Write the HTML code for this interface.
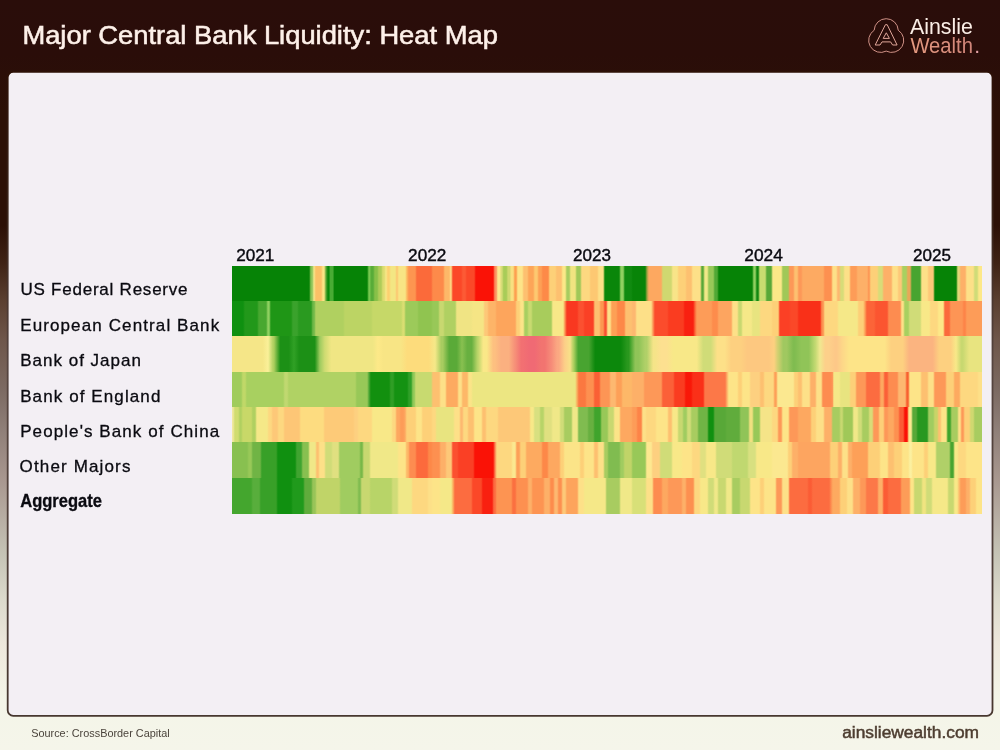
<!DOCTYPE html>
<html lang="en"><head><meta charset="utf-8"><title>Major Central Bank Liquidity: Heat Map</title>
<style>
html,body{margin:0;padding:0}
body{width:1000px;height:750px;overflow:hidden;position:relative;font-family:"Liberation Sans",sans-serif;
background:linear-gradient(180deg,#2a0d0a 0px,#2a0d09 55px,#2c1006 110px,#2c1006 225px,#3e2214 262px,#5a3f30 300px,#6e564a 340px,#7c6a62 390px,#8f7f78 430px,#a8978f 480px,#b8afa4 520px,#c6c4b6 555px,#dcdacc 600px,#eee8dc 645px,#f4f5e8 700px,#f5f5ea 750px)}
.r{position:absolute;left:232px;width:750px}
svg{position:absolute;left:0;top:0}
text{font-family:"Liberation Sans",sans-serif}
</style></head><body>
<svg width="1000" height="750" viewBox="0 0 1000 750"><defs><linearGradient id="bg" x1="0" y1="0" x2="0" y2="1"><stop offset="0" stop-color="#2c1006"/><stop offset="0.22" stop-color="#3a241a"/><stop offset="0.45" stop-color="#55443f"/><stop offset="1" stop-color="#47372f"/></linearGradient></defs><rect x="7.7" y="71.9" width="984.8" height="643.9" rx="5.5" fill="#f3eff4" stroke="url(#bg)" stroke-width="1.8"/></svg>
<div class="r" style="top:266px;height:35px;background:linear-gradient(90deg,#068306 0.9px,#068306 77.1px,#8cc458 78.9px,#8cc458 80.1px,#f5e88a 82.0px,#fcc066 83.9px,#fcc066 89.1px,#fbe585 90.9px,#fbe585 92.1px,#60a838 94.0px,#0a880a 95.9px,#0a880a 96.7px,#48ac34 98.5px,#48ac34 100.7px,#068306 102.5px,#068306 135.1px,#78c850 136.9px,#78c850 137.5px,#58ac38 139.3px,#58ac38 141.1px,#88c048 142.9px,#88c048 145.1px,#b0cc58 146.9px,#b0cc58 149.1px,#dcdc70 150.9px,#dcdc70 152.1px,#f8e888 154.0px,#fdd070 155.9px,#fdd070 157.1px,#f3e683 158.9px,#f3e683 163.1px,#fdc470 165.0px,#f8e585 166.9px,#f8e585 173.1px,#fdb860 175.0px,#fd9550 176.9px,#fd9550 183.1px,#fb6a3a 184.9px,#fb6a3a 199.1px,#fd8a4a 200.9px,#fd8a4a 211.1px,#fdb868 212.9px,#fdb868 217.1px,#fde088 219.0px,#fb4828 220.9px,#fb4828 229.1px,#fc5a35 230.9px,#fc5a35 233.1px,#fb4828 234.9px,#fb4828 242.1px,#fa1206 243.9px,#fa1206 261.1px,#fc9060 262.9px,#fc9060 264.1px,#fbe890 265.9px,#fbe890 267.5px,#d8dc78 269.3px,#d8dc78 269.9px,#a8cc58 271.7px,#a8cc58 274.3px,#d0d870 276.1px,#d0d870 277.5px,#f8e080 279.3px,#f8e080 281.1px,#fda050 282.9px,#fda050 284.1px,#fde488 285.9px,#fde488 290.1px,#fdc070 291.9px,#fdc070 295.1px,#fda558 296.9px,#fda558 301.1px,#fdc870 302.9px,#fdc870 305.1px,#fda055 306.9px,#fda055 309.1px,#fd8a48 310.9px,#fd8a48 316.1px,#fdd078 317.9px,#fdd078 323.1px,#fdc070 324.9px,#fdc070 329.1px,#fbe888 330.9px,#fbe888 333.1px,#a8cc60 334.9px,#a8cc60 337.1px,#f0e480 338.9px,#f0e480 343.1px,#a0c858 344.9px,#a0c858 348.1px,#fdd880 349.9px,#fdd880 357.1px,#fdc872 358.9px,#fdc872 365.1px,#fde088 366.9px,#fde088 371.1px,#0a860a 372.9px,#0a860a 387.1px,#90d060 388.9px,#90d060 391.1px,#108a10 392.9px,#108a10 399.1px,#088408 400.9px,#088408 413.1px,#a0a040 415.0px,#fda860 416.9px,#fda860 429.1px,#d0d870 430.9px,#d0d870 439.1px,#f8e488 440.9px,#f8e488 445.1px,#fdd078 446.9px,#fdd078 453.1px,#fdc070 454.9px,#fdc070 459.1px,#fde088 460.9px,#fde088 468.1px,#58a838 469.9px,#58a838 471.1px,#f0e888 472.9px,#f0e888 475.1px,#98c858 476.9px,#98c858 481.1px,#50a835 482.9px,#50a835 485.1px,#068306 486.9px,#068306 520.1px,#90d060 521.9px,#90d060 523.1px,#108810 524.9px,#108810 526.1px,#c8dc70 527.9px,#c8dc70 533.1px,#58a838 534.9px,#58a838 539.1px,#fbe888 540.9px,#fbe888 549.1px,#a0c858 550.9px,#a0c858 556.1px,#fd9858 557.9px,#fd9858 561.1px,#fdc070 562.9px,#fdc070 565.1px,#fd9858 566.9px,#fd9858 569.1px,#fdaa62 570.9px,#fdaa62 591.1px,#fd9050 592.9px,#fd9050 599.1px,#fde088 600.9px,#fde088 604.1px,#fdb870 605.9px,#fdb870 607.1px,#d8dc78 608.9px,#d8dc78 611.1px,#fde088 612.9px,#fde088 617.1px,#fd9c58 618.9px,#fd9c58 624.1px,#fdb068 625.9px,#fdb068 635.1px,#fd9050 637.0px,#fdd078 638.9px,#fdd078 645.1px,#d8dc78 646.9px,#d8dc78 650.1px,#fdb068 651.9px,#fdb068 659.1px,#fde088 660.9px,#fde088 665.1px,#fdc878 666.9px,#fdc878 669.1px,#a8d060 670.9px,#a8d060 674.1px,#e8a858 675.9px,#e8a858 678.1px,#48a430 679.9px,#48a430 688.1px,#fde088 689.9px,#fde088 695.1px,#fdc878 696.9px,#fdc878 701.1px,#068306 702.9px,#068306 724.1px,#e0d878 725.9px,#e0d878 727.1px,#fdb068 728.9px,#fdb068 733.1px,#fde088 734.9px,#fde088 741.1px,#d0dc78 742.9px,#d0dc78 745.1px,#fde888 746.9px,#fde888 749.5px)"></div>
<div class="r" style="top:301px;height:35px;background:linear-gradient(90deg,#0f9010 0.9px,#0f9010 11.1px,#22981a 12.9px,#22981a 25.1px,#48a830 26.9px,#48a830 34.1px,#8fd060 35.9px,#8fd060 37.1px,#1f9616 38.9px,#1f9616 59.1px,#3aa22c 60.9px,#3aa22c 65.1px,#2a9a20 66.9px,#2a9a20 79.1px,#70b848 80.9px,#70b848 82.1px,#b0d060 83.9px,#b0d060 111.1px,#bcd464 112.9px,#bcd464 139.1px,#c6d868 140.9px,#c6d868 169.1px,#dade72 170.9px,#dade72 172.1px,#9cca5a 173.9px,#9cca5a 185.1px,#90c450 186.9px,#90c450 199.1px,#98c858 200.9px,#98c858 206.1px,#c8d870 207.9px,#c8d870 211.1px,#b0d062 212.9px,#b0d062 223.1px,#f0e484 224.9px,#f0e484 239.1px,#f5e585 240.9px,#f5e585 251.1px,#fdc878 252.9px,#fdc878 255.1px,#fdb468 256.9px,#fdb468 263.1px,#fda55c 264.9px,#fda55c 283.1px,#fdd078 284.9px,#fdd078 287.1px,#fce488 288.9px,#fce488 291.1px,#a8cf60 292.9px,#a8cf60 295.1px,#c8da70 296.9px,#c8da70 299.1px,#a8cc5c 300.9px,#a8cc5c 319.1px,#f8e888 320.9px,#f8e888 331.1px,#fc9050 333.0px,#f93820 334.9px,#f93820 345.1px,#fb5030 346.9px,#fb5030 351.1px,#fa4025 352.9px,#fa4025 361.1px,#fdc070 362.9px,#fdc070 367.1px,#fd9850 368.9px,#fd9850 371.1px,#f85030 372.9px,#f85030 374.1px,#fde088 375.9px,#fde088 378.1px,#fda055 379.9px,#fda055 384.1px,#fd8848 385.9px,#fd8848 392.1px,#fdc070 393.9px,#fdc070 399.1px,#fdb870 400.9px,#fdb870 403.1px,#fde088 404.9px,#fde088 419.1px,#fc9858 421.0px,#fb4c2c 422.9px,#fb4c2c 435.1px,#fa3c20 436.9px,#fa3c20 451.1px,#f92010 452.9px,#f92010 461.1px,#fc6838 463.0px,#fd9c58 464.9px,#fd9c58 479.1px,#fd8c4c 480.9px,#fd8c4c 485.1px,#fda560 486.9px,#fda560 499.1px,#fde088 500.9px,#fde088 505.1px,#c8d870 506.9px,#c8d870 509.1px,#f5e888 510.9px,#f5e888 519.1px,#e8e480 520.9px,#e8e480 527.1px,#fdd880 528.9px,#fdd880 539.1px,#fdd078 540.9px,#fdd078 546.1px,#fb4025 547.9px,#fb4025 557.1px,#fa4828 558.9px,#fa4828 565.1px,#f93018 566.9px,#f93018 588.1px,#fc9050 589.9px,#fc9050 591.1px,#fdd880 592.9px,#fdd880 599.1px,#fdd880 600.9px,#fdd880 605.1px,#f5e888 606.9px,#f5e888 625.1px,#fdd078 626.9px,#fdd078 631.1px,#fda058 633.0px,#fc6438 634.9px,#fc6438 642.1px,#fb5530 643.9px,#fb5530 655.1px,#fd8c50 656.9px,#fd8c50 668.1px,#fde088 669.9px,#fde088 671.1px,#a8d060 672.9px,#a8d060 676.1px,#d0dc78 677.9px,#d0dc78 688.1px,#f8e888 689.9px,#f8e888 697.1px,#fdd880 698.9px,#fdd880 705.1px,#fde888 706.9px,#fde888 711.1px,#fb6a3c 712.9px,#fb6a3c 717.1px,#fd9555 718.9px,#fd9555 730.1px,#fd8448 731.9px,#fd8448 733.1px,#fd9c58 734.9px,#fd9c58 749.5px)"></div>
<div class="r" style="top:336px;height:36px;background:linear-gradient(90deg,#f5e688 3.2px,#f5e688 30.8px,#faf098 35.9px,#faf098 36.1px,#b0d060 41.2px,#b0d060 41.8px,#1c9016 48.2px,#1c9016 56.8px,#30a025 61.9px,#30a025 62.1px,#1c9016 67.2px,#1c9016 82.8px,#a0cc60 87.9px,#a0cc60 88.1px,#d0dc72 92.9px,#d0dc72 93.1px,#f0e684 99.2px,#f0e684 140.8px,#fde988 145.9px,#fde988 146.1px,#f8e585 151.2px,#f8e585 168.8px,#fddc7c 175.2px,#fddc7c 196.8px,#f5e888 202.9px,#f5e888 203.1px,#a8cc60 209.2px,#a8cc60 210.8px,#5aaa38 217.2px,#5aaa38 224.8px,#88c050 229.9px,#88c050 230.1px,#68b040 235.2px,#68b040 239.8px,#b8d468 245.4px,#b8d468 245.6px,#fae888 251.2px,#fae888 254.8px,#fdc080 261.2px,#fdc080 262.8px,#fbb080 269.2px,#fbb080 276.8px,#f69078 282.9px,#f69078 283.1px,#f27072 289.2px,#f27072 290.8px,#f06a74 297.2px,#f06a74 302.8px,#f27470 309.2px,#f27470 312.8px,#f68a78 318.9px,#f68a78 319.1px,#fba882 325.2px,#fba882 326.8px,#fcd088 332.9px,#fcd088 333.1px,#f8e088 337.9px,#f8e088 338.1px,#b0d060 341.4px,#b0d060 341.6px,#48a430 346.2px,#48a430 356.8px,#0c880c 363.2px,#0c880c 388.8px,#2a981e 395.2px,#2a981e 396.8px,#90c458 403.2px,#90c458 406.8px,#b0d068 413.2px,#b0d068 414.8px,#f5e488 421.2px,#f5e488 422.8px,#fde090 429.2px,#fde090 434.8px,#f8e888 441.2px,#f8e888 464.8px,#d0dc78 471.2px,#d0dc78 478.8px,#fde088 485.2px,#fde088 492.8px,#fdd080 499.2px,#fdd080 508.8px,#fdc880 515.2px,#fdc880 536.8px,#fdd080 541.9px,#fdd080 542.1px,#d0d070 545.9px,#d0d070 546.1px,#a0c860 551.2px,#a0c860 554.8px,#80bc50 561.2px,#80bc50 562.8px,#90c458 569.2px,#90c458 576.8px,#c0d870 582.9px,#c0d870 583.1px,#f0e890 587.9px,#f0e890 588.1px,#fdd08a 593.2px,#fdd08a 596.8px,#fdc888 603.2px,#fdc888 604.8px,#fdd888 610.9px,#fdd888 611.1px,#fde488 617.2px,#fde488 652.8px,#fdd080 659.2px,#fdd080 670.8px,#fbb480 677.2px,#fbb480 700.8px,#fdd080 707.2px,#fdd080 718.8px,#f8e888 723.9px,#f8e888 724.1px,#c8d870 729.2px,#c8d870 730.8px,#e8e480 737.2px,#e8e480 747.2px)"></div>
<div class="r" style="top:372px;height:35px;background:linear-gradient(90deg,#a0cc5c 0.9px,#a0cc5c 9.1px,#c0d868 10.9px,#c0d868 13.1px,#a8d060 14.9px,#a8d060 51.1px,#c0d870 52.9px,#c0d870 55.1px,#b0d264 56.9px,#b0d264 123.1px,#98c858 124.9px,#98c858 135.1px,#50a838 137.0px,#12900f 138.9px,#12900f 157.1px,#2f9e25 158.9px,#2f9e25 161.1px,#149212 162.9px,#149212 175.1px,#30a028 176.9px,#30a028 179.1px,#90c858 180.9px,#90c858 182.1px,#c8da70 183.9px,#c8da70 199.1px,#fdc070 200.9px,#fdc070 207.1px,#fde088 208.9px,#fde088 213.1px,#fdaa60 214.9px,#fdaa60 225.1px,#fde088 226.9px,#fde088 229.1px,#fdb868 230.9px,#fdb868 235.1px,#fbe488 236.9px,#fbe488 239.1px,#ece682 240.9px,#ece682 343.1px,#f8b060 345.0px,#fb7840 346.9px,#fb7840 353.1px,#fd9050 354.9px,#fd9050 361.1px,#fa6035 362.9px,#fa6035 367.1px,#fd9555 368.9px,#fd9555 377.1px,#fdb870 378.9px,#fdb870 383.1px,#fda058 384.9px,#fda058 389.1px,#fdb868 390.9px,#fdb868 399.1px,#fdb068 400.9px,#fdb068 411.1px,#fd9858 412.9px,#fd9858 429.1px,#fb6038 430.9px,#fb6038 441.1px,#fa3c20 442.9px,#fa3c20 452.1px,#f91808 453.9px,#f91808 459.1px,#fa3018 460.9px,#fa3018 471.1px,#fc7848 472.9px,#fc7848 493.1px,#fdb068 495.0px,#fde488 496.9px,#fde488 505.1px,#fdd078 506.9px,#fdd078 509.1px,#fde488 510.9px,#fde488 517.1px,#fdd080 518.9px,#fdd080 527.1px,#fdc070 528.9px,#fdc070 531.1px,#fdd880 532.9px,#fdd880 541.1px,#fda058 542.9px,#fda058 544.1px,#fbe890 545.9px,#fbe890 561.1px,#fdd078 562.9px,#fdd078 565.1px,#fdc070 566.9px,#fdc070 569.1px,#fde088 570.9px,#fde088 577.1px,#fdb068 578.9px,#fdb068 583.1px,#fde088 584.9px,#fde088 589.1px,#fd8c50 590.9px,#fd8c50 599.1px,#fd9858 600.5px,#f5e888 601.9px,#f5e888 607.1px,#e8e480 608.9px,#e8e480 617.1px,#fdd078 618.9px,#fdd078 623.1px,#fd9858 624.9px,#fd9858 633.1px,#fc6c40 634.9px,#fc6c40 647.1px,#fda860 648.9px,#fda860 651.1px,#fb6038 652.9px,#fb6038 655.1px,#fd8c50 656.9px,#fd8c50 665.1px,#fdb870 666.9px,#fdb870 673.1px,#f86030 674.9px,#f86030 676.1px,#fde488 677.9px,#fde488 688.1px,#fdc070 689.9px,#fdc070 695.1px,#fde088 696.9px,#fde088 701.1px,#fd9858 702.9px,#fd9858 713.1px,#fdd078 714.9px,#fdd078 721.1px,#fdaa60 722.9px,#fdaa60 727.1px,#fdd880 728.9px,#fdd880 745.1px,#fde088 746.9px,#fde088 749.5px)"></div>
<div class="r" style="top:407px;height:35px;background:linear-gradient(90deg,#f0e8a0 1.0px,#d0dc70 2.9px,#d0dc70 6.1px,#b0d060 7.9px,#b0d060 9.1px,#c8d868 10.9px,#c8d868 19.1px,#b0d060 20.9px,#b0d060 23.1px,#f5e888 24.9px,#f5e888 35.1px,#fdd880 36.9px,#fdd880 39.1px,#fdc878 40.9px,#fdc878 45.1px,#fdd880 46.9px,#fdd880 51.1px,#fdc676 52.9px,#fdc676 67.1px,#fddc80 68.9px,#fddc80 91.1px,#fdca78 92.9px,#fdca78 121.1px,#fdd080 122.9px,#fdd080 125.1px,#fdd880 126.9px,#fdd880 139.1px,#f8e888 140.9px,#f8e888 159.1px,#fdd880 160.9px,#fdd880 163.1px,#fda860 164.9px,#fda860 167.1px,#fd9c58 168.9px,#fd9c58 171.1px,#fda860 173.0px,#fdd078 174.9px,#fdd078 183.1px,#fde488 184.9px,#fde488 189.1px,#fdd078 190.9px,#fdd078 199.1px,#fdd880 200.9px,#fdd880 203.1px,#e8e480 204.9px,#e8e480 221.1px,#fde088 222.9px,#fde088 227.1px,#fdb870 228.9px,#fdb870 230.1px,#fdd880 231.9px,#fdd880 235.1px,#fdc070 236.9px,#fdc070 241.1px,#fde488 242.9px,#fde488 249.1px,#fdc070 250.9px,#fdc070 253.1px,#fdd880 254.9px,#fdd880 265.1px,#fdc878 266.9px,#fdc878 297.1px,#f8e888 298.9px,#f8e888 301.1px,#d8e080 302.9px,#d8e080 307.1px,#b8d468 308.9px,#b8d468 311.1px,#e0e080 312.9px,#e0e080 319.1px,#f0e888 320.9px,#f0e888 327.1px,#d0dc78 328.9px,#d0dc78 331.1px,#a8cc60 332.9px,#a8cc60 339.1px,#f0e888 340.9px,#f0e888 345.1px,#80bc50 346.9px,#80bc50 355.1px,#68b040 356.9px,#68b040 361.1px,#40a42c 362.9px,#40a42c 368.1px,#98c858 369.9px,#98c858 375.1px,#c8d870 376.9px,#c8d870 381.1px,#fbe488 382.9px,#fbe488 387.1px,#fda860 388.9px,#fda860 399.1px,#fd9c58 400.9px,#fd9c58 404.1px,#fd8448 405.9px,#fd8448 409.1px,#fde088 410.9px,#fde088 413.1px,#fdd880 414.9px,#fdd880 423.1px,#fde488 424.9px,#fde488 435.1px,#fdc070 436.9px,#fdc070 439.1px,#f8e888 440.9px,#f8e888 445.1px,#c8d870 446.9px,#c8d870 450.1px,#a0cc60 451.9px,#a0cc60 454.1px,#d0dc78 455.9px,#d0dc78 458.1px,#a8cc60 459.9px,#a8cc60 465.1px,#70b445 466.9px,#70b445 475.1px,#109010 476.9px,#109010 481.1px,#58a838 482.9px,#58a838 493.1px,#60ac3c 494.9px,#60ac3c 507.1px,#90c458 508.9px,#90c458 516.1px,#f0e080 517.9px,#f0e080 520.1px,#98c858 521.9px,#98c858 527.1px,#f5e488 528.9px,#f5e488 539.1px,#fdd880 540.9px,#fdd880 545.1px,#fd9858 546.9px,#fd9858 549.1px,#fde488 550.9px,#fde488 556.1px,#fd9858 557.9px,#fd9858 565.1px,#fda860 566.9px,#fda860 578.1px,#fdd078 579.9px,#fdd078 583.1px,#fde088 584.9px,#fde088 591.1px,#fdb068 592.9px,#fdb068 599.1px,#a8cc60 600.9px,#a8cc60 607.1px,#c8d870 608.9px,#c8d870 610.1px,#a0c858 611.9px,#a0c858 620.1px,#f0e888 621.9px,#f0e888 625.1px,#d0dc78 626.9px,#d0dc78 629.1px,#a8cc60 630.9px,#a8cc60 636.1px,#d8dc78 637.9px,#d8dc78 640.1px,#fd9858 641.9px,#fd9858 646.1px,#fdd078 647.9px,#fdd078 651.1px,#fd9858 652.9px,#fd9858 655.1px,#fda860 656.9px,#fda860 661.1px,#fd9050 662.9px,#fd9050 666.1px,#fb5c35 667.9px,#fb5c35 671.1px,#fa1206 672.9px,#fa1206 675.1px,#fbe890 676.9px,#fbe890 679.1px,#58a838 680.9px,#58a838 684.1px,#289820 685.9px,#289820 695.1px,#a0cc60 696.9px,#a0cc60 701.1px,#c8d468 702.9px,#c8d468 705.1px,#fdc070 706.9px,#fdc070 708.1px,#fde488 709.9px,#fde488 714.1px,#40a42c 715.9px,#40a42c 718.1px,#a8cc60 719.9px,#a8cc60 725.1px,#fde088 726.9px,#fde088 728.1px,#fd9858 729.9px,#fd9858 731.1px,#fdd078 732.9px,#fdd078 737.1px,#d0d870 738.9px,#d0d870 741.1px,#a8cc60 742.9px,#a8cc60 749.5px)"></div>
<div class="r" style="top:442px;height:36px;background:linear-gradient(90deg,#88c050 0.9px,#88c050 15.1px,#98c858 16.9px,#98c858 19.1px,#70b445 20.9px,#70b445 28.1px,#38a028 29.9px,#38a028 44.1px,#109010 45.9px,#109010 63.1px,#40a430 64.9px,#40a430 69.1px,#88c050 70.9px,#88c050 76.1px,#f0e888 77.9px,#f0e888 83.1px,#fdc070 84.9px,#fdc070 86.1px,#fde088 87.9px,#fde088 92.1px,#d0dc78 93.9px,#d0dc78 99.1px,#e0e080 100.9px,#e0e080 106.1px,#a0cc60 107.9px,#a0cc60 127.1px,#78b848 128.9px,#78b848 130.1px,#c8d870 131.9px,#c8d870 137.1px,#f0e888 138.9px,#f0e888 165.1px,#fde488 166.9px,#fde488 173.1px,#fdb868 174.9px,#fdb868 176.1px,#fd8c50 177.9px,#fd8c50 183.1px,#fc6a3c 184.9px,#fc6a3c 195.1px,#fd8848 196.9px,#fd8848 199.1px,#fd9050 200.9px,#fd9050 207.1px,#fdb068 208.9px,#fdb068 213.1px,#fdc878 214.9px,#fdc878 219.1px,#fb5030 220.9px,#fb5030 225.1px,#fa4025 226.9px,#fa4025 241.1px,#fa1206 242.9px,#fa1206 261.1px,#fc8050 263.0px,#fdd880 264.9px,#fdd880 279.1px,#fbe890 280.9px,#fbe890 283.1px,#fda058 284.9px,#fda058 287.1px,#fdd078 288.9px,#fdd078 293.1px,#fdaa60 294.9px,#fdaa60 309.1px,#fd8848 310.9px,#fd8848 315.1px,#fda860 316.9px,#fda860 327.1px,#fdd078 328.9px,#fdd078 331.1px,#fbe488 332.9px,#fbe488 347.1px,#fdd078 348.9px,#fdd078 351.1px,#fde488 352.9px,#fde488 361.1px,#fdc070 362.9px,#fdc070 365.1px,#fde088 366.9px,#fde088 371.1px,#a8cc60 372.9px,#a8cc60 375.1px,#80bc50 376.9px,#80bc50 387.1px,#a0cc60 388.9px,#a0cc60 391.1px,#c0d468 392.9px,#c0d468 399.1px,#98c858 400.9px,#98c858 413.1px,#fde890 414.9px,#fde890 419.1px,#fdd080 420.9px,#fdd080 427.1px,#d0dc78 428.9px,#d0dc78 439.1px,#f8e888 440.9px,#f8e888 449.1px,#fde488 450.9px,#fde488 459.1px,#fdd880 460.9px,#fdd880 467.1px,#e0e080 468.9px,#e0e080 473.1px,#f8e888 474.9px,#f8e888 483.1px,#d0dc78 484.9px,#d0dc78 499.1px,#c0d870 500.9px,#c0d870 515.1px,#d8e080 516.9px,#d8e080 523.1px,#f8e888 524.9px,#f8e888 539.1px,#fbe890 540.9px,#fbe890 555.1px,#fdd078 556.9px,#fdd078 559.1px,#fdb068 560.9px,#fdb068 565.1px,#fda560 566.9px,#fda560 597.1px,#fdd078 599.0px,#fdd078 600.9px,#fdd078 605.1px,#fdb068 606.9px,#fdb068 609.1px,#fde088 610.9px,#fde088 615.1px,#fdb068 616.9px,#fdb068 619.1px,#fda058 620.9px,#fda058 635.1px,#fdd078 636.9px,#fdd078 647.1px,#fde488 648.9px,#fde488 655.1px,#fdc070 656.9px,#fdc070 661.1px,#fdd078 662.9px,#fdd078 669.1px,#fde488 670.9px,#fde488 676.1px,#fbf0a0 677.9px,#fbf0a0 679.1px,#fde488 680.9px,#fde488 691.1px,#fdd078 692.9px,#fdd078 695.1px,#f8e888 696.9px,#f8e888 703.1px,#b0d068 704.9px,#b0d068 717.1px,#48a430 718.9px,#48a430 721.1px,#f8e888 722.9px,#f8e888 725.1px,#fdd880 726.9px,#fdd880 733.1px,#fde488 734.9px,#fde488 749.5px)"></div>
<div class="r" style="top:478px;height:36px;background:linear-gradient(90deg,#44a62e 0.9px,#44a62e 19.1px,#58ae3c 20.9px,#58ae3c 27.1px,#38a028 28.9px,#38a028 44.1px,#109010 45.9px,#109010 59.1px,#209a1c 60.9px,#209a1c 71.1px,#60ac3c 72.9px,#60ac3c 79.1px,#98c458 80.9px,#98c458 83.1px,#c0d468 84.9px,#c0d468 107.1px,#a0cc60 108.9px,#a0cc60 125.1px,#80bc50 126.9px,#80bc50 128.1px,#c8d870 129.9px,#c8d870 137.1px,#b8d468 138.9px,#b8d468 159.1px,#d0dc78 160.9px,#d0dc78 165.1px,#f0e888 166.9px,#f0e888 179.1px,#fdd880 180.9px,#fdd880 195.1px,#fde088 196.9px,#fde088 199.1px,#fde488 200.9px,#fde488 207.1px,#f5e888 208.9px,#f5e888 219.1px,#fcb060 221.0px,#fc6c40 222.9px,#fc6c40 239.1px,#fb4828 240.9px,#fb4828 249.1px,#f92010 250.9px,#f92010 260.1px,#fc6c40 261.9px,#fc6c40 263.1px,#fd9452 264.9px,#fd9452 279.1px,#fb7040 280.9px,#fb7040 283.1px,#fd9050 284.9px,#fd9050 295.1px,#fdb068 296.9px,#fdb068 299.1px,#fd9452 300.9px,#fd9452 311.1px,#fdb068 312.9px,#fdb068 317.1px,#fd8c4c 318.9px,#fd8c4c 321.1px,#fdb870 322.9px,#fdb870 325.1px,#fd9050 326.9px,#fd9050 329.1px,#fdc878 330.9px,#fdc878 333.1px,#fda45c 334.9px,#fda45c 345.1px,#fde088 346.9px,#fde088 351.1px,#f5e888 352.9px,#f5e888 373.1px,#a8cc60 374.9px,#a8cc60 387.1px,#f0e888 388.9px,#f0e888 399.1px,#d8e078 400.9px,#d8e078 413.1px,#fde088 414.9px,#fde088 420.1px,#fd8c50 421.9px,#fd8c50 429.1px,#fda860 430.9px,#fda860 435.1px,#fd9858 436.9px,#fd9858 449.1px,#fdb068 450.9px,#fdb068 453.1px,#fd9050 454.9px,#fd9050 461.1px,#fdd880 462.9px,#fdd880 467.1px,#f8e888 468.9px,#f8e888 475.1px,#d0dc78 476.9px,#d0dc78 481.1px,#f0e888 482.9px,#f0e888 485.1px,#c8d870 486.9px,#c8d870 493.1px,#f0e888 494.9px,#f0e888 499.1px,#a8cc60 500.9px,#a8cc60 507.1px,#c8d870 508.9px,#c8d870 517.1px,#fde488 518.9px,#fde488 527.1px,#fdd078 528.9px,#fdd078 531.1px,#fde488 532.9px,#fde488 543.1px,#fd9858 544.9px,#fd9858 549.1px,#fde088 550.9px,#fde088 556.1px,#fc6c40 557.9px,#fc6c40 575.1px,#fb5c35 576.9px,#fb5c35 579.1px,#fc6c40 580.9px,#fc6c40 597.1px,#fd8c50 599.0px,#fdaa60 600.9px,#fdaa60 607.1px,#fdd078 608.9px,#fdd078 614.1px,#fde088 615.9px,#fde088 620.1px,#fdb068 621.9px,#fdb068 627.1px,#fd9858 628.9px,#fd9858 633.1px,#fc7848 634.9px,#fc7848 645.1px,#fdb068 646.9px,#fdb068 650.1px,#fb5c35 651.9px,#fb5c35 655.1px,#fc6c40 656.9px,#fc6c40 668.1px,#fd9c58 669.9px,#fd9c58 677.1px,#fde488 678.9px,#fde488 681.1px,#c8d870 682.9px,#c8d870 689.1px,#f0e480 690.9px,#f0e480 693.1px,#d0dc78 694.9px,#d0dc78 699.1px,#f5e888 700.9px,#f5e888 715.1px,#c8d870 716.9px,#c8d870 721.1px,#f8e888 722.9px,#f8e888 725.1px,#fdc070 727.0px,#fd9c58 728.9px,#fd9c58 733.1px,#fdb068 734.9px,#fdb068 737.1px,#fdd078 738.9px,#fdd078 743.1px,#fde488 744.9px,#fde488 749.5px)"></div>
<svg width="1000" height="750" viewBox="0 0 1000 750">
<defs><linearGradient id="wg" x1="0" y1="0" x2="1" y2="0"><stop offset="0" stop-color="#e59a80"/><stop offset="1" stop-color="#cf8479"/></linearGradient></defs>
<text x="22.4" y="44.4" font-size="25.6" fill="#fdf0e9" stroke="#fdf0e9" stroke-width="0.55" textLength="475.5" lengthAdjust="spacingAndGlyphs">Major Central Bank Liquidity: Heat Map</text>
<path d="M874.16 30.26 A12.05 12.05 0 0 1 898.24 30.26 A12.05 12.05 0 0 1 886.20 51.10 A12.05 12.05 0 0 1 874.16 30.26 Z" fill="none" stroke="#d09186" stroke-width="1"/>
<path d="M885.4 24.7 L887.2 24.7 L897.1 45 L892.6 45 L890.6 41.9 L882 41.9 L880 45 L875.2 45 Z M886.3 32.8 L889.4 38.4 L883.2 38.4 Z" fill="none" stroke="#e0a699" stroke-width="1" stroke-linejoin="round"/>
<text x="909.9" y="33.6" font-size="21.6" fill="#fbeee6" textLength="63" lengthAdjust="spacingAndGlyphs">Ainslie</text>
<text x="910.4" y="52.8" font-size="22" fill="url(#wg)" textLength="62.6" lengthAdjust="spacingAndGlyphs">Wealth</text>
<text x="974.2" y="52.8" font-size="21" fill="#e3a3a8">.</text>
<text x="236.2" y="260.8" font-size="17" fill="#0a0a10" stroke="#0a0a10" stroke-width="0.4" textLength="38.2" lengthAdjust="spacingAndGlyphs">2021</text>
<text x="408.1" y="260.8" font-size="17" fill="#0a0a10" stroke="#0a0a10" stroke-width="0.4" textLength="38.2" lengthAdjust="spacingAndGlyphs">2022</text>
<text x="573.0" y="260.8" font-size="17" fill="#0a0a10" stroke="#0a0a10" stroke-width="0.4" textLength="37.9" lengthAdjust="spacingAndGlyphs">2023</text>
<text x="744.3" y="260.8" font-size="17" fill="#0a0a10" stroke="#0a0a10" stroke-width="0.4" textLength="38.6" lengthAdjust="spacingAndGlyphs">2024</text>
<text x="913.0" y="260.8" font-size="17" fill="#0a0a10" stroke="#0a0a10" stroke-width="0.4" textLength="37.9" lengthAdjust="spacingAndGlyphs">2025</text>
<text transform="translate(20.5,295.1) scale(1.00,1)" font-size="17" fill="#0a0a10" stroke="#0a0a10" stroke-width="0.3" textLength="167.0" lengthAdjust="spacing">US Federal Reserve</text>
<text transform="translate(20.2,330.6) scale(1.00,1)" font-size="17" fill="#0a0a10" stroke="#0a0a10" stroke-width="0.3" textLength="199.0" lengthAdjust="spacing">European Central Bank</text>
<text transform="translate(20.2,366.0) scale(1.00,1)" font-size="17" fill="#0a0a10" stroke="#0a0a10" stroke-width="0.3" textLength="120.8" lengthAdjust="spacing">Bank of Japan</text>
<text transform="translate(20.2,401.5) scale(1.00,1)" font-size="17" fill="#0a0a10" stroke="#0a0a10" stroke-width="0.3" textLength="140.2" lengthAdjust="spacing">Bank of England</text>
<text transform="translate(20.2,436.9) scale(1.00,1)" font-size="17" fill="#0a0a10" stroke="#0a0a10" stroke-width="0.3" textLength="199.0" lengthAdjust="spacing">People's Bank of China</text>
<text transform="translate(19.6,472.4) scale(1.00,1)" font-size="17" fill="#0a0a10" stroke="#0a0a10" stroke-width="0.3" textLength="110.8" lengthAdjust="spacing">Other Majors</text>
<text transform="translate(20.2,506.9) scale(0.9,1)" font-size="17.6" font-weight="bold" fill="#0a0a10" stroke="#0a0a10" stroke-width="0.3" textLength="90.9" lengthAdjust="spacingAndGlyphs">Aggregate</text>
<text x="31.2" y="736.6" font-size="10.7" fill="#4b443c" textLength="138.5" lengthAdjust="spacingAndGlyphs">Source: CrossBorder Capital</text>
<text x="842.2" y="738.4" font-size="15.6" fill="#4d3d30" stroke="#4d3d30" stroke-width="0.45" textLength="136.8" lengthAdjust="spacingAndGlyphs">ainsliewealth.com</text>
</svg>
</body></html>
